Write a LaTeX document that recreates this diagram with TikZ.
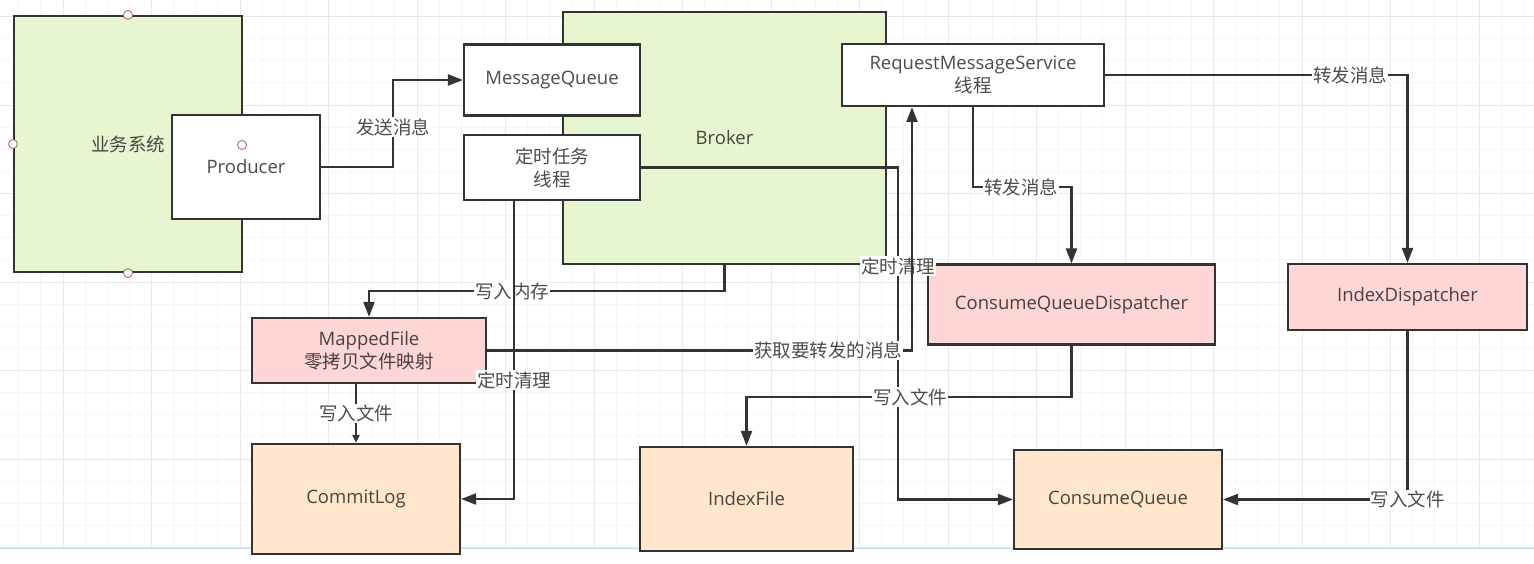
\documentclass[tikz,border=0pt]{standalone}
\usepackage{fontspec}
\setmainfont{Open Sans}
\newfontfamily\cjk{Noto Sans CJK SC}
\usetikzlibrary{arrows.meta}
\definecolor{bizgreen}{RGB}{231,246,209}
\definecolor{dispink}{RGB}{255,214,214}
\definecolor{filepeach}{RGB}{255,230,205}
\definecolor{pageblue}{RGB}{196,222,238}
\definecolor{handlered}{RGB}{190,120,120}

\begin{document}
\begin{tikzpicture}[x=1pt,y=-1pt,
    font=\fontsize{18.5}{23}\selectfont,
    box/.style={draw=black!80,line width=2.2pt,text=black,text opacity=0.7,align=center,inner sep=0pt},
    lbl/.style={fill=white,inner sep=1pt,text=black,text opacity=0.7,font=\fontsize{18.5}{23}\selectfont\cjk},
    arr/.style={draw=black!80,line width=2.2pt,-{Triangle[length=15pt,width=11pt]}},
    arrsmall/.style={draw=black!80,line width=2.2pt,-{Triangle[length=8pt,width=7pt]}},
    handle/.style={circle,draw=handlered,fill=white,line width=1pt,minimum size=9pt,inner sep=0pt},
    minorgrid/.style={draw=black!4,line width=0.8pt},
    majorgrid/.style={draw=black!9,line width=0.9pt}]
    \useasboundingbox (0,0) rectangle (1534,564);
    % background grid
    \foreach \i in {0,...,70} \draw[minorgrid] ({-3.375+22.125*\i},0) -- ++(0,548);
    \foreach \j in {0,...,25} \draw[minorgrid] (0,{-5.625+22.125*\j}) -- ++(1534,0);
    \foreach \i in {0,...,17} \draw[majorgrid] ({-25.5+88.5*\i},0) -- ++(0,548);
    \foreach \j in {0,...,6} \draw[majorgrid] (0,{16.5+88.5*\j}) -- ++(1534,0);
    \draw[pageblue,line width=1.2pt] (0,548.5) -- (1534,548.5);

    % systems
    \node[box,fill=bizgreen,minimum width=228,minimum height=256] (biz) at (128,144) {\cjk 业务系统};
    \node[box,fill=white,minimum width=148,minimum height=104] (producer) at (246,167) {Producer};
    \node[box,fill=bizgreen,minimum width=323,minimum height=252] (broker) at (724.5,138) {Broker};
    \node[box,fill=white,minimum width=176,minimum height=71] (mq) at (552,80) {MessageQueue};
    \node[box,fill=white,minimum width=176,minimum height=65] (timer) at (552,167.5) {\cjk 定时任务\\\cjk 线程};
    \node[box,fill=white,minimum width=262,minimum height=62] (rms) at (973,75) {RequestMessageService\\\cjk 线程};

    % dispatchers
    \node[box,fill=dispink,minimum width=234,minimum height=65] (mapped) at (369,350.5) {MappedFile\\\cjk 零拷贝文件映射};
    \node[box,fill=dispink,minimum width=287,minimum height=80] (cqd) at (1071.5,304.5) {ConsumeQueueDispatcher};
    \node[box,fill=dispink,minimum width=239,minimum height=66] (idxd) at (1407.5,297) {IndexDispatcher};

    % files
    \node[box,fill=filepeach,minimum width=208,minimum height=110] (commit) at (356,499) {CommitLog};
    \node[box,fill=filepeach,minimum width=213,minimum height=104] (idxfile) at (746.5,499) {IndexFile};
    \node[box,fill=filepeach,minimum width=208,minimum height=99] (cq) at (1118,499.5) {ConsumeQueue};

    % handles
    \node[handle] at (biz.north) {};
    \node[handle] at (biz.south) {};
    \node[handle] at (biz.west) {};
    \node[handle] at (242,145) {};

    % connectors
    \draw[arr] (producer.east) -| (393,127) node[lbl] {发送消息} |- (mq.west);
    \draw[arr] (broker.south) |- (512,291) node[lbl] {写入内存} -| (mapped.north);
    \draw[arrsmall] (mapped.south -| commit.north) -- node[lbl] {写入文件} (commit.north);
    \draw[arr] ([xshift=-38pt]timer.south) -- ++(0,179) node[lbl] {定时清理} |- (commit.east);
    \draw[arr] (timer.east) -| (898,266) node[lbl] {定时清理} |- (cq.west);
    \draw[arr] (mapped.east) -- (828,350.5) node[lbl] {获取要转发的消息} -| ([xshift=-61pt]rms.south);
    \draw[arr] (rms.south) |- (1021,187) node[lbl] {转发消息} -| (cqd.north);
    \draw[arr] (rms.east) -- (1350,75) node[lbl] {转发消息} -| (idxd.north);
    \draw[arr] (cqd.south) |- (910,397) node[lbl] {写入文件} -| (idxfile.north);
    \draw[arr] (idxd.south) -- (idxd.south |- cq.east) node[lbl] {写入文件} -- (cq.east);
\end{tikzpicture}
\end{document}
